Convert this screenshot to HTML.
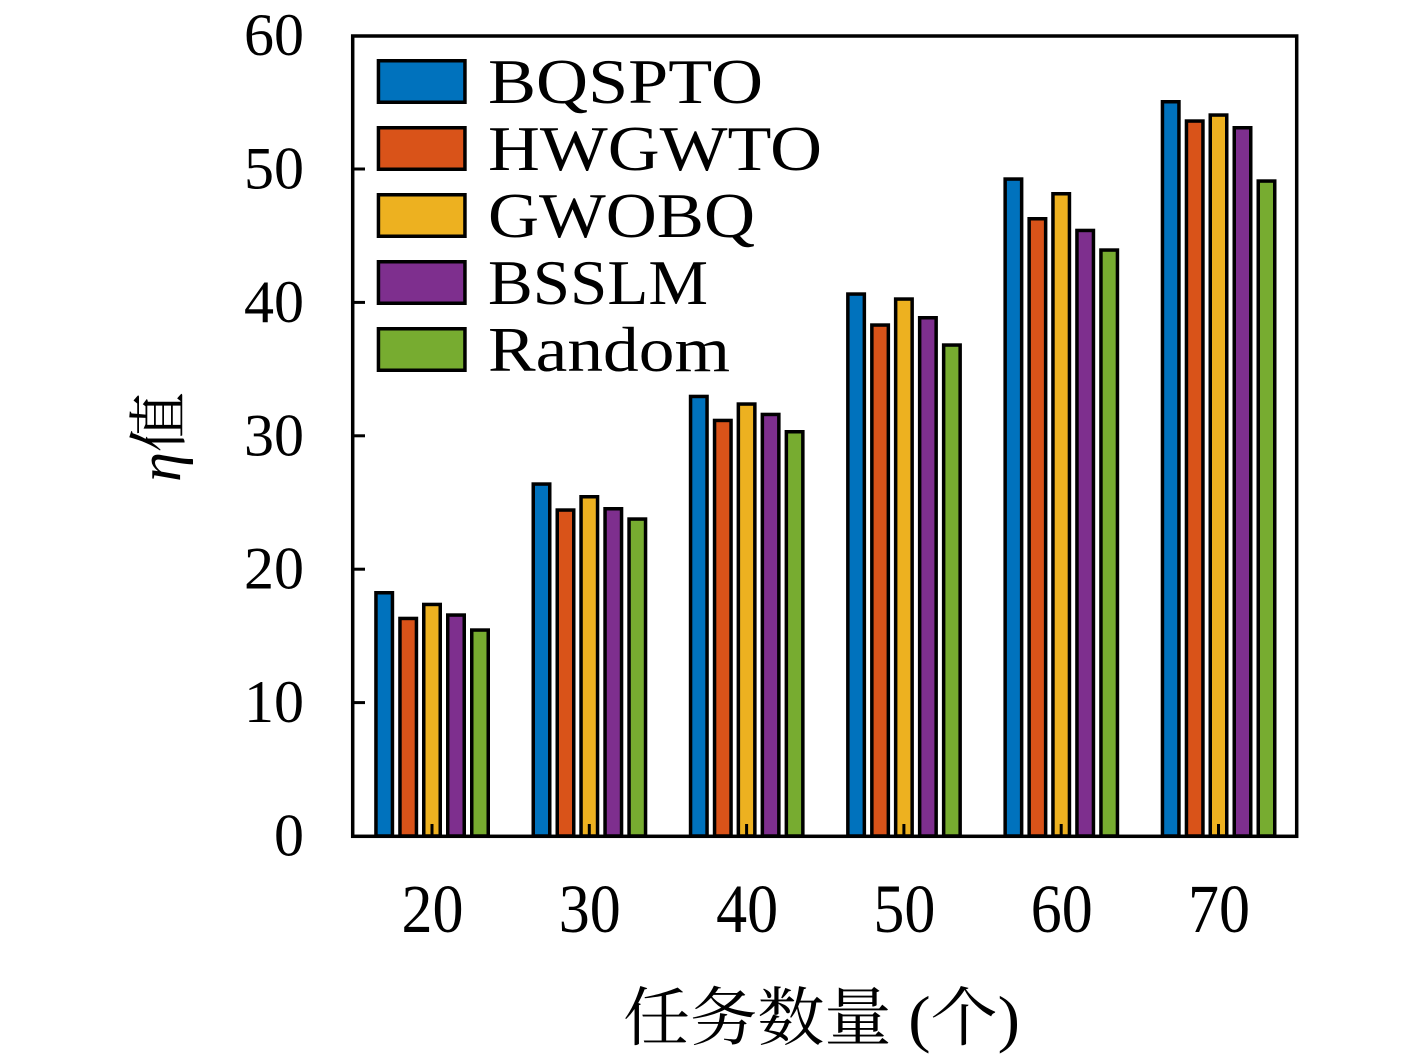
<!DOCTYPE html>
<html>
<head>
<meta charset="utf-8">
<style>
html,body{margin:0;padding:0;background:#fff;}
svg{display:block;}
text{font-family:"Liberation Serif","Noto Serif CJK SC",serif;fill:#000;}
</style>
</head>
<body>
<svg width="1417" height="1058" viewBox="0 0 1417 1058" xmlns="http://www.w3.org/2000/svg">
<rect width="1417" height="1058" fill="#fff"/>
<g stroke="#000" stroke-width="3.5">
<!-- group 20 center 432 -->
<rect x="375.95" y="592.75" width="16.5" height="243.25" fill="#0072BD"/>
<rect x="399.95" y="618.45" width="16.5" height="217.55" fill="#D95319"/>
<rect x="423.75" y="604.45" width="16.5" height="231.55" fill="#EDB120"/>
<rect x="447.75" y="615.05" width="16.5" height="220.95" fill="#7E2F8E"/>
<rect x="471.75" y="630.05" width="16.5" height="205.95" fill="#77AC30"/>
<!-- group 30 center 589.3 -->
<rect x="533.25" y="484.05" width="16.5" height="351.95" fill="#0072BD"/>
<rect x="557.25" y="510.05" width="16.5" height="325.95" fill="#D95319"/>
<rect x="581.05" y="496.75" width="16.5" height="339.25" fill="#EDB120"/>
<rect x="605.05" y="508.75" width="16.5" height="327.25" fill="#7E2F8E"/>
<rect x="629.05" y="519.05" width="16.5" height="316.95" fill="#77AC30"/>
<!-- group 40 center 746.6 -->
<rect x="690.55" y="396.45" width="16.5" height="439.55" fill="#0072BD"/>
<rect x="714.55" y="420.45" width="16.5" height="415.55" fill="#D95319"/>
<rect x="738.35" y="404.05" width="16.5" height="431.95" fill="#EDB120"/>
<rect x="762.35" y="414.45" width="16.5" height="421.55" fill="#7E2F8E"/>
<rect x="786.35" y="431.75" width="16.5" height="404.25" fill="#77AC30"/>
<!-- group 50 center 903.9 -->
<rect x="847.85" y="294.05" width="16.5" height="541.95" fill="#0072BD"/>
<rect x="871.85" y="325.05" width="16.5" height="510.95" fill="#D95319"/>
<rect x="895.65" y="299.05" width="16.5" height="536.95" fill="#EDB120"/>
<rect x="919.65" y="317.75" width="16.5" height="518.25" fill="#7E2F8E"/>
<rect x="943.65" y="345.05" width="16.5" height="490.95" fill="#77AC30"/>
<!-- group 60 center 1061.2 -->
<rect x="1005.15" y="179.05" width="16.5" height="656.95" fill="#0072BD"/>
<rect x="1029.15" y="218.75" width="16.5" height="617.25" fill="#D95319"/>
<rect x="1052.95" y="193.75" width="16.5" height="642.25" fill="#EDB120"/>
<rect x="1076.95" y="230.45" width="16.5" height="605.55" fill="#7E2F8E"/>
<rect x="1100.95" y="250.05" width="16.5" height="585.95" fill="#77AC30"/>
<!-- group 70 center 1218.5 -->
<rect x="1162.45" y="101.75" width="16.5" height="734.25" fill="#0072BD"/>
<rect x="1186.45" y="121.05" width="16.5" height="714.95" fill="#D95319"/>
<rect x="1210.25" y="115.05" width="16.5" height="720.95" fill="#EDB120"/>
<rect x="1234.25" y="127.75" width="16.5" height="708.25" fill="#7E2F8E"/>
<rect x="1258.25" y="181.05" width="16.5" height="654.95" fill="#77AC30"/>
</g>
<!-- ticks -->
<g stroke="#000" stroke-width="3">
<line x1="432" y1="836" x2="432" y2="824"/>
<line x1="589.3" y1="836" x2="589.3" y2="824"/>
<line x1="746.6" y1="836" x2="746.6" y2="824"/>
<line x1="903.9" y1="836" x2="903.9" y2="824"/>
<line x1="1061.2" y1="836" x2="1061.2" y2="824"/>
<line x1="1218.5" y1="836" x2="1218.5" y2="824"/>
<line x1="353" y1="702.6" x2="365" y2="702.6"/>
<line x1="353" y1="569.2" x2="365" y2="569.2"/>
<line x1="353" y1="435.8" x2="365" y2="435.8"/>
<line x1="353" y1="302.4" x2="365" y2="302.4"/>
<line x1="353" y1="169" x2="365" y2="169"/>
</g>
<!-- axes box -->
<rect x="352.7" y="36" width="944" height="800.3" fill="none" stroke="#000" stroke-width="3.5"/>
<!-- y tick labels -->
<g font-size="60" text-anchor="end">
<text x="304" y="855.5">0</text>
<text x="304" y="722.1">10</text>
<text x="304" y="588.7">20</text>
<text x="304" y="455.3">30</text>
<text x="304" y="321.9">40</text>
<text x="304" y="188.5">50</text>
<text x="304" y="55">60</text>
</g>
<!-- x tick labels -->
<g font-size="69">
<text x="401.5" y="932" textLength="62" lengthAdjust="spacingAndGlyphs">20</text>
<text x="558.8" y="932" textLength="62" lengthAdjust="spacingAndGlyphs">30</text>
<text x="716.1" y="932" textLength="62" lengthAdjust="spacingAndGlyphs">40</text>
<text x="873.4" y="932" textLength="62" lengthAdjust="spacingAndGlyphs">50</text>
<text x="1030.7" y="932" textLength="62" lengthAdjust="spacingAndGlyphs">60</text>
<text x="1188" y="932" textLength="62" lengthAdjust="spacingAndGlyphs">70</text>
</g>
<!-- axis titles -->
<text x="623" y="1040" font-size="64" textLength="397" lengthAdjust="spacingAndGlyphs">任务数量 (个)</text>
<text transform="translate(180,437) rotate(-90)" font-size="60" text-anchor="middle"><tspan font-style="italic">η</tspan>值</text>
<!-- legend -->
<g stroke="#000" stroke-width="3.5">
<rect x="378.45" y="60.75" width="86.5" height="41.5" fill="#0072BD"/>
<rect x="378.45" y="127.75" width="86.5" height="41.5" fill="#D95319"/>
<rect x="378.45" y="194.75" width="86.5" height="41.5" fill="#EDB120"/>
<rect x="378.45" y="261.75" width="86.5" height="41.5" fill="#7E2F8E"/>
<rect x="378.45" y="328.75" width="86.5" height="41.5" fill="#77AC30"/>
</g>
<g font-size="63">
<text x="488" y="103" textLength="275" lengthAdjust="spacingAndGlyphs">BQSPTO</text>
<text x="488" y="170" textLength="334" lengthAdjust="spacingAndGlyphs">HWGWTO</text>
<text x="488" y="237" textLength="267" lengthAdjust="spacingAndGlyphs">GWOBQ</text>
<text x="488" y="304" textLength="220" lengthAdjust="spacingAndGlyphs">BSSLM</text>
<text x="488" y="371" textLength="242" lengthAdjust="spacingAndGlyphs">Random</text>
</g>
</svg>
</body>
</html>
